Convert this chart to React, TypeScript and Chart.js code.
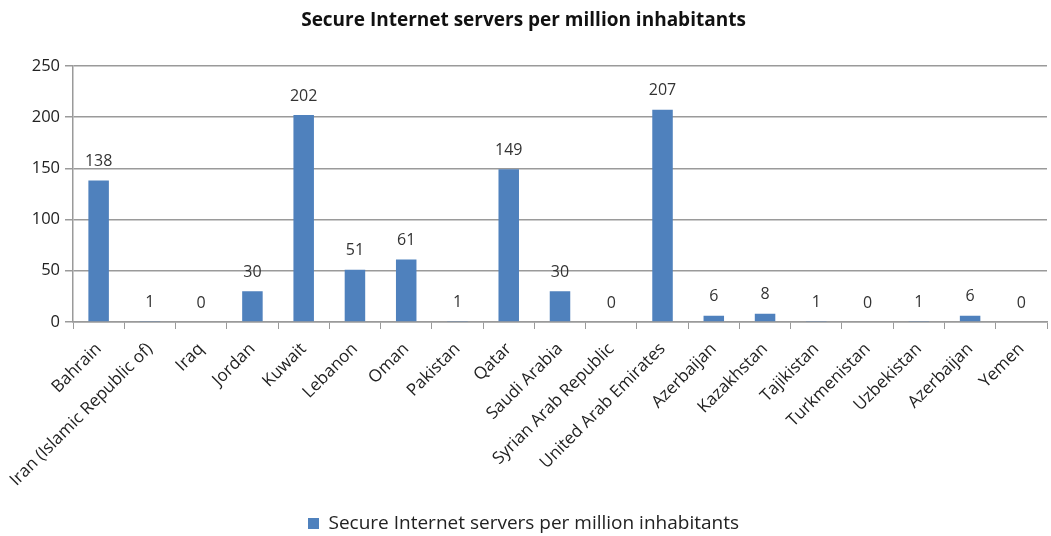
import React, { useEffect, useRef } from "react";
import { Chart, registerables } from "chart.js";

Chart.register(...registerables);

const categories = [
  "Bahrain",
  "Iran (Islamic Republic of)",
  "Iraq",
  "Jordan",
  "Kuwait",
  "Lebanon",
  "Oman",
  "Pakistan",
  "Qatar",
  "Saudi Arabia",
  "Syrian Arab Republic",
  "United Arab Emirates",
  "Azerbaijan",
  "Kazakhstan",
  "Tajikistan",
  "Turkmenistan",
  "Uzbekistan",
  "Azerbaijan",
  "Yemen",
];

const serverValues = [138, 1, 0, 30, 202, 51, 61, 1, 149, 30, 0, 207, 6, 8, 1, 0, 1, 6, 0];

const yTicks = [0, 50, 100, 150, 200, 250];

const seriesName = "Secure Internet servers per million inhabitants";
const titleText = "Secure Internet servers per million inhabitants";

const FONT = "'Open Sans', 'Noto Sans', sans-serif";

const valueLabels = {
  id: "valueLabels",
  afterDatasetsDraw(chart: any) {
    const ctx = chart.ctx;
    const meta = chart.getDatasetMeta(0);
    ctx.save();
    ctx.font = `16px ${FONT}`;
    ctx.fillStyle = "#333333";
    ctx.textAlign = "center";
    ctx.textBaseline = "bottom";
    meta.data.forEach((bar: any, i: number) => {
      const v = chart.data.datasets[0].data[i];
      ctx.fillText(String(v), bar.x, bar.y - 11);
    });
    ctx.restore();
  },
};

export default function App() {
  const canvasRef = useRef<HTMLCanvasElement | null>(null);

  useEffect(() => {
    if (!canvasRef.current) return;
    const chart = new Chart(canvasRef.current, {
      type: "bar",
      data: {
        labels: categories,
        datasets: [
          {
            label: seriesName,
            data: serverValues,
            backgroundColor: "#4F81BD",
            borderColor: "#4F81BD",
            borderWidth: 0,
            categoryPercentage: 0.8,
            barPercentage: 0.5,
          },
        ],
      },
      options: {
        animation: false,
        responsive: true,
        maintainAspectRatio: false,
        layout: { padding: { left: 0, right: 4, top: 0, bottom: -7 } },
        plugins: {
          title: {
            display: true,
            text: titleText,
            color: "#111111",
            font: { family: FONT, size: 19, weight: "bold" },
            padding: { top: 9, bottom: 34 },
          },
          legend: {
            display: true,
            position: "bottom",
            labels: {
              color: "#222222",
              font: { family: FONT, size: 19, lineHeight: 1 },
              boxWidth: 11,
              boxHeight: 11,
              padding: 4,
            },
          },
          tooltip: { enabled: false },
        },
        scales: {
          x: {
            afterFit: (scale: any) => {
              scale.height = 188;
            },
            grid: {
              display: true,
              drawOnChartArea: false,
              drawTicks: true,
              tickLength: 7,
              color: "#9a9a9a",
              offset: true,
            },
            border: { display: true, color: "#9a9a9a", width: 1.5 },
            ticks: {
              color: "#222222",
              font: { family: FONT, size: 17 },
              minRotation: 45,
              maxRotation: 45,
              autoSkip: false,
              padding: 10,
            },
          },
          y: {
            min: 0,
            max: 250,
            afterFit: (scale: any) => {
              scale.width = 73;
            },
            afterBuildTicks: (scale: any) => {
              scale.ticks = yTicks.map((v) => ({ value: v }));
            },
            grid: {
              color: "#9a9a9a",
              lineWidth: 1.5,
              tickLength: 8,
            },
            border: { display: true, color: "#9a9a9a", width: 1.5 },
            ticks: {
              color: "#222222",
              font: { family: FONT, size: 16.5 },
              padding: 5,
            },
          },
        },
      },
      plugins: [valueLabels],
    });
    return () => chart.destroy();
  }, []);

  return (
    <div
      style={{
        position: "fixed",
        left: 0,
        top: 0,
        width: 1051,
        height: 536,
        background: "#ffffff",
      }}
    >
      <canvas ref={canvasRef} />
    </div>
  );
}
